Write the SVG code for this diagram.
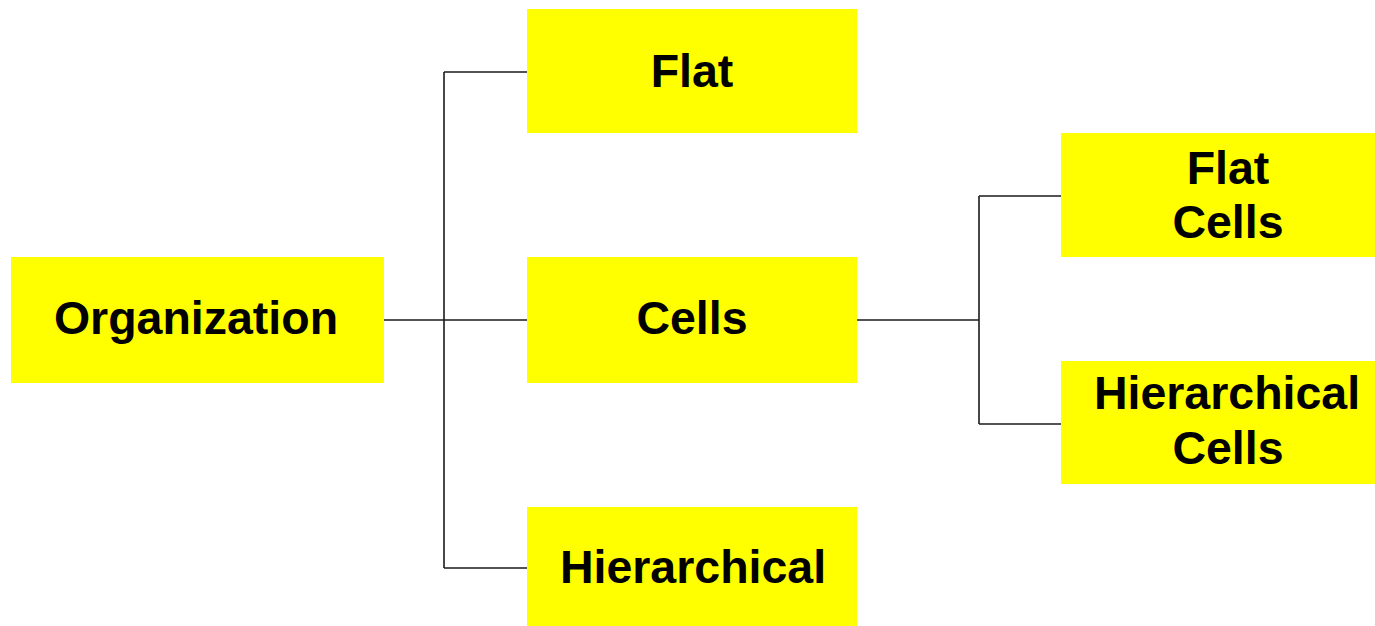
<svg xmlns="http://www.w3.org/2000/svg" width="1375" height="626" viewBox="0 0 1375 626">
<style>
.box{fill:#ffff00;}
.lbl{font-family:"Liberation Sans",Arial,sans-serif;font-weight:bold;font-size:46.5px;fill:#000;text-anchor:middle;}
.con{stroke:#1a1a1a;stroke-width:1.6;fill:none;}
</style>
<rect width="1375" height="626" fill="#fff"/>
<g id="connectors">
<path class="con" d="M380 320H527"/>
<path class="con" d="M444 72V568"/>
<path class="con" d="M444 72H527"/>
<path class="con" d="M444 568H527"/>
<path class="con" d="M857 320H979"/>
<path class="con" d="M979 196V424"/>
<path class="con" d="M979 196H1061"/>
<path class="con" d="M979 424H1061"/>
</g>
<g id="organization"><rect class="box" x="11" y="257" width="373" height="126"/><text class="lbl" x="196" y="334">Organization</text></g>
<g id="flat"><rect class="box" x="527" y="9" width="330" height="124"/><text class="lbl" x="692" y="87">Flat</text></g>
<g id="cells"><rect class="box" x="527" y="257" width="330" height="126"/><text class="lbl" x="692" y="334">Cells</text></g>
<g id="hierarchical"><rect class="box" x="527" y="507" width="330" height="119"/><text class="lbl" x="693" y="583">Hierarchical</text></g>
<g id="flat-cells"><rect class="box" x="1061" y="133" width="314" height="124"/><text class="lbl" x="1228" y="184">Flat</text><text class="lbl" x="1228" y="238">Cells</text></g>
<g id="hierarchical-cells"><rect class="box" x="1061" y="361" width="314" height="123"/><text class="lbl" x="1227" y="409">Hierarchical</text><text class="lbl" x="1228" y="464">Cells</text></g>
</svg>
